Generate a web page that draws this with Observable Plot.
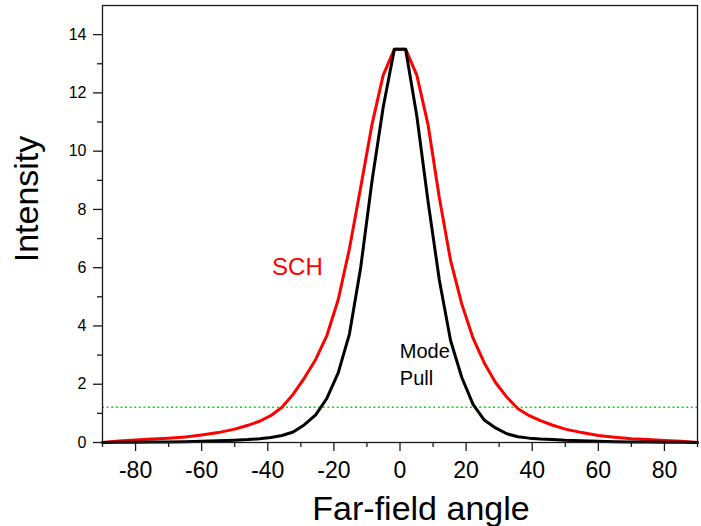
<!DOCTYPE html>
<html>
<head>
<meta charset="utf-8">
<script src="https://cdn.jsdelivr.net/npm/d3@7"></script>
<script src="https://cdn.jsdelivr.net/npm/@observablehq/plot@0.6"></script>
<style>
  html, body { margin: 0; padding: 0; background: #fff; }
  #chart svg { display: block; }
</style>
</head>
<body>
<div id="chart"></div>
<script>
// Far-field angle (degrees)
const angles = [-90, -85, -80, -75, -70, -65, -60, -55, -50, -46, -42.5, -39.1, -35.7, -32.3, -28.9, -25.5, -22.1, -18.7, -15.3, -11.9, -8.5, -5.1, -1.7,
                1.7, 5.1, 8.5, 11.9, 15.3, 18.7, 22.1, 25.5, 28.9, 32.3, 35.7, 39.1, 42.5, 46, 50, 55, 60, 65, 70, 75, 80, 85, 90];

// SCH far-field intensity
const schIntensity = [0.0, 0.05, 0.09, 0.12, 0.15, 0.19, 0.26, 0.34, 0.46, 0.59, 0.73, 0.92, 1.21, 1.66, 2.22, 2.85, 3.68, 4.9, 6.65, 8.75, 10.9, 12.6, 13.5,
                      13.5, 12.6, 10.9, 8.4, 6.25, 4.75, 3.58, 2.73, 2.06, 1.56, 1.16, 0.92, 0.75, 0.6, 0.46, 0.34, 0.24, 0.18, 0.13, 0.10, 0.07, 0.04, 0.0];

// Mode-pull far-field intensity
const modePullIntensity = [0.0, 0.005, 0.01, 0.015, 0.02, 0.03, 0.04, 0.06, 0.08, 0.1, 0.13, 0.17, 0.24, 0.36, 0.61, 0.95, 1.52, 2.39, 3.72, 6.0, 8.95, 11.5, 13.5,
                           13.5, 11.2, 8.26, 5.58, 3.5, 2.23, 1.31, 0.77, 0.5, 0.3, 0.2, 0.15, 0.12, 0.1, 0.075, 0.06, 0.04, 0.03, 0.02, 0.015, 0.01, 0.005, 0.0];

const seriesNames = ["SCH", "Mode\nPull"];
const thresholdLevel = [1.21];

// Axis ticks
const xMajorTicks = [-80, -60, -40, -20, 0, 20, 40, 60, 80];
const xMinorTicks = [-90, -70, -50, -30, -10, 10, 30, 50, 70, 90];
const yMajorTicks = [0, 2, 4, 6, 8, 10, 12, 14];
const yMinorTicks = [1, 3, 5, 7, 9, 11, 13];

const axisLabels = { x: "Far-field angle", y: "Intensity" };

const sch = angles.map((a, i) => ({ angle: a, intensity: schIntensity[i] }));
const modePull = angles.map((a, i) => ({ angle: a, intensity: modePullIntensity[i] }));

const ink = "#1a1a1a";
const font = "'Liberation Sans', Arial, Helvetica, sans-serif";

const chart = Plot.plot({
  width: 701,
  height: 526,
  marginLeft: 102,
  marginRight: 4,
  marginTop: 5,
  marginBottom: 84,
  style: { fontFamily: font, background: "#fff", color: ink },
  x: { domain: [-90, 90] },
  y: { domain: [0, 15] },
  marks: [
    // dotted threshold level
    Plot.ruleY(thresholdLevel, { stroke: "#00e600", strokeWidth: 1.5, strokeDasharray: "2,2.6" }),
    Plot.line(sch, { x: "angle", y: "intensity", stroke: "#ff0000", strokeWidth: 3, strokeLinejoin: "round" }),
    Plot.line(modePull, { x: "angle", y: "intensity", stroke: "#000000", strokeWidth: 3, strokeLinejoin: "round" }),
    Plot.frame({ stroke: ink, strokeWidth: 1.3 }),
    // axes: labelled major ticks and short minor ticks
    Plot.axisX({ ticks: xMajorTicks, tickSize: 9, tickPadding: 10, fontSize: 23, strokeWidth: 1.3, fill: "#000", label: null, tickFormat: d => String(d).replace("−", "-") }),
    Plot.axisX({ ticks: xMinorTicks, tickSize: 5, strokeWidth: 1.3, label: null, tickFormat: () => "" }),
    Plot.axisY({ ticks: yMajorTicks, tickSize: 9, tickPadding: 7, fontSize: 16, strokeWidth: 1.3, fill: "#000", label: null }),
    Plot.axisY({ ticks: yMinorTicks, tickSize: 5, strokeWidth: 1.3, label: null, tickFormat: () => "" }),
    // series annotations
    Plot.text([seriesNames[0]], { x: () => -38.7, y: () => 5.76, text: d => d, textAnchor: "start", lineAnchor: "bottom", fontSize: 24, fill: "#ff0000" }),
    Plot.text([seriesNames[1]], { x: () => -0.05, y: () => 1.96, text: d => d, textAnchor: "start", lineAnchor: "bottom", lineHeight: 1.38, fontSize: 20, fill: "#000" }),
    // axis titles
    Plot.text([axisLabels.x], { frameAnchor: "bottom", text: d => d, dx: 21, dy: 77, textAnchor: "middle", lineAnchor: "bottom", fontSize: 34, fill: "#000" }),
    Plot.text([axisLabels.y], { frameAnchor: "left", text: d => d, rotate: -90, dx: -65, dy: -25, textAnchor: "middle", lineAnchor: "bottom", fontSize: 34, fill: "#000" })
  ]
});

document.getElementById("chart").appendChild(chart);
</script>
</body>
</html>
